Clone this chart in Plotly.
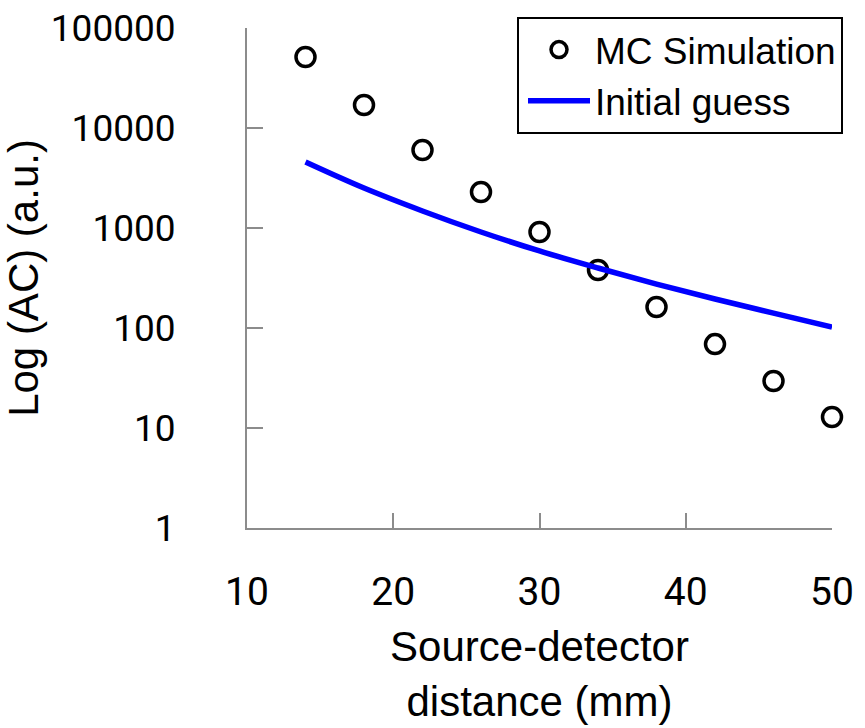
import plotly.graph_objects as go

# Data
distance_mm = [14, 18, 22, 26, 30, 34, 38, 42, 46, 50]
mc_simulation = [51300, 17000, 6030, 2290, 912, 380, 162, 69, 29.5, 12.9]
initial_guess = [4570, 2510, 1480, 912, 589, 398, 275, 195, 141, 102]

x_ticks = [10, 20, 30, 40, 50]
y_ticks = [1, 10, 100, 1000, 10000, 100000]
y_tick_labels = ["1", "10", "100", "1000", "10000", "100000"]

axis_gray = "#8c8c8c"
y_tick_font = dict(family="Roboto, Open Sans, sans-serif", size=37, color="black")
x_tick_font = dict(family="Roboto, Open Sans, sans-serif", size=39, color="black")
title_font = dict(family="Liberation Sans, Arial, sans-serif", size=42, color="black")

fig = go.Figure()
fig.add_trace(go.Scatter(
    x=distance_mm, y=mc_simulation, mode="markers", name="MC Simulation",
    marker=dict(symbol="circle-open", size=19, color="black", line=dict(width=3.5, color="black")),
    cliponaxis=False,
))
fig.add_trace(go.Scatter(
    x=distance_mm, y=initial_guess, mode="lines", name="Initial guess",
    line=dict(color="#0000ff", width=5.5, shape="spline"),
    cliponaxis=False,
))

fig.update_layout(
    width=865, height=728,
    margin=dict(l=247, r=33, t=28, b=200, autoexpand=False),
    paper_bgcolor="white", plot_bgcolor="white",
    showlegend=True,
    legend=dict(
        xref="container", yref="container",
        x=517 / 865, y=1 - 17 / 728, xanchor="left", yanchor="top",
        bgcolor="white", bordercolor="black", borderwidth=2,
        font=dict(family="Liberation Sans, Arial, sans-serif", size=37, color="black"),
        itemwidth=62, indentation=4, tracegroupgap=0,
    ),
    xaxis=dict(
        range=[10, 50.0001], tickvals=x_ticks, ticktext=[str(v) for v in x_ticks],
        showline=True, linecolor=axis_gray, linewidth=2,
        ticks="inside", ticklen=15, tickwidth=2, tickcolor=axis_gray,
        showgrid=False, zeroline=False, tickfont=x_tick_font,
        ticklabelstandoff=28, ticklabeloverflow="allow",
        title=dict(text="Source-detector<br>distance (mm)", font=title_font, standoff=18),
    ),
    yaxis=dict(
        type="log", range=[-0.00001, 5.00001], tickvals=y_ticks, ticktext=y_tick_labels,
        showline=True, linecolor=axis_gray, linewidth=2,
        ticks="inside", ticklen=16, tickwidth=2, tickcolor=axis_gray,
        showgrid=False, zeroline=False, tickfont=y_tick_font,
        ticklabelstandoff=62, ticklabeloverflow="allow",
        title=dict(text="Log (AC) (a.u.)", font=title_font, standoff=25),
    ),
)

fig.write_html("out.html")
